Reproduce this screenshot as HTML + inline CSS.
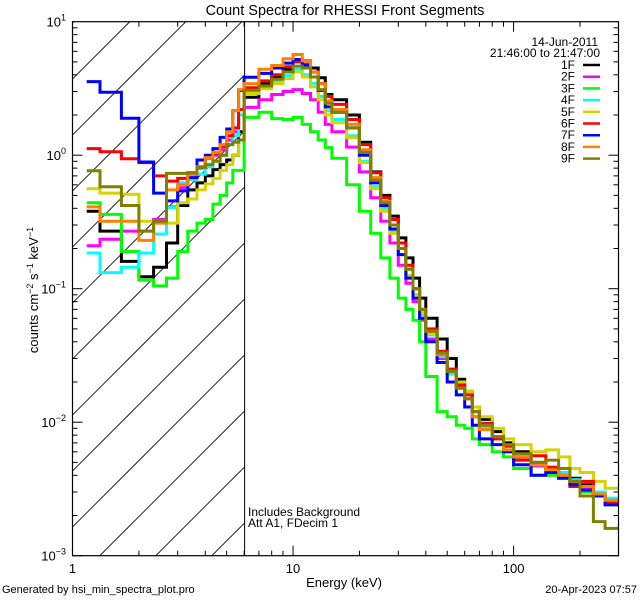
<!DOCTYPE html>
<html><head><meta charset="utf-8"><style>
html,body{margin:0;padding:0;background:#fff;width:640px;height:600px;overflow:hidden;}
svg{display:block;position:absolute;left:0;top:0;font-family:"Liberation Sans",sans-serif;}
</style></head><body>
<svg id="chart" width="640" height="600" viewBox="0 0 640 600" xmlns="http://www.w3.org/2000/svg" overflow="hidden">
<defs><clipPath id="plotclip"><rect x="72.5" y="21.7" width="546" height="534"/></clipPath>
<clipPath id="hatchclip"><rect x="72.5" y="21.7" width="172" height="534"/></clipPath></defs>
<rect width="640" height="600" fill="#fff"/>
<text x="345" y="15" font-size="14.5" text-anchor="middle">Count Spectra for RHESSI Front Segments</text>
<g id="hatch" clip-path="url(#hatchclip)"></g>
<line x1="244.6" y1="21.7" x2="244.6" y2="555.7" stroke="#000" stroke-width="1"/>
<g id="series" clip-path="url(#plotclip)"></g>
<g id="axes"></g>
<text x="344" y="587" font-size="13" text-anchor="middle">Energy (keV)</text>
<text transform="translate(38,290) rotate(-90)" font-size="13" text-anchor="middle">counts cm<tspan dy="-5" font-size="9">−2</tspan><tspan dy="5"> s</tspan><tspan dy="-5" font-size="9">−1</tspan><tspan dy="5"> keV</tspan><tspan dy="-5" font-size="9">−1</tspan></text>
<text x="248" y="516" font-size="12">Includes Background</text>
<text x="248" y="527" font-size="12">Att A1, FDecim 1</text>
<text x="2" y="593" font-size="11">Generated by hsi_min_spectra_plot.pro</text>
<text x="637" y="593" font-size="11" text-anchor="end">20-Apr-2023 07:57</text>
<text x="598" y="46" font-size="12" text-anchor="end">14-Jun-2011</text>
<text x="600" y="57" font-size="12" text-anchor="end">21:46:00 to 21:47:00</text>
<g id="legend"></g>
</svg>
<script>
const energyEdges = [1.16,1.333,1.667,2,2.333,2.667,3,3.333,3.667,4,4.333,4.667,5,5.333,5.667,6,
 7,8,9,10,11,12,13,14,15,
 17.5,20,22.5,25,27.5,30,32.5,35,37.5,40,45,50,55,60,65,70,80,90,100,120,140,160,180,200,230,260,300];
const seriesNames = ["1F","2F","3F","4F","5F","6F","7F","8F","9F"];
const s1F = [0.38,0.27,0.16,0.123,0.145,0.22,0.42,0.55,0.62,0.70,0.78,0.85,0.92,1.0,1.5,
 2.72,3.44,3.84,4.4,5.2,5.1,4.5,3.8,2.85,
 2.6,2.0,1.25,0.75,0.5,0.35,0.24,0.17,0.12,0.085,0.06,0.042,0.03,0.021,0.017,0.013,0.0105,0.0085,0.007,0.006,0.005,0.0045,0.0042,0.0038,0.0034,0.003,0.0026];
const s2F = [0.21,0.235,0.27,0.27,0.33,0.41,0.57,0.72,0.80,0.95,1.0,1.1,1.3,1.5,2.0,
 2.28,2.6,2.85,3.0,3.1,2.9,2.6,2.1,1.7,
 1.5,1.15,0.75,0.48,0.32,0.22,0.15,0.11,0.08,0.058,0.042,0.03,0.023,0.018,0.015,0.011,0.009,0.0075,0.006,0.0052,0.0047,0.0043,0.0039,0.0035,0.0032,0.0028,0.0025];
const s3F = [0.44,0.36,0.19,0.116,0.105,0.12,0.19,0.27,0.31,0.33,0.43,0.5,0.62,0.77,0.77,
 1.92,2.1,1.88,1.85,1.92,1.7,1.5,1.3,1.14,
 0.95,0.6,0.38,0.26,0.17,0.12,0.085,0.07,0.058,0.04,0.022,0.012,0.011,0.0095,0.009,0.0075,0.0068,0.006,0.0055,0.0045,0.004,0.004,0.0038,0.0035,0.003,0.0028,0.0025];
const s4F = [0.185,0.132,0.145,0.185,0.257,0.405,0.62,0.66,0.72,0.82,0.9,1.0,1.2,1.4,2.0,
 3.07,3.3,3.6,3.95,4.4,4.0,3.45,2.75,2.15,
 1.85,1.4,0.9,0.58,0.4,0.27,0.18,0.125,0.09,0.064,0.045,0.031,0.023,0.018,0.015,0.011,0.009,0.0075,0.0062,0.0055,0.0048,0.0046,0.0042,0.0037,0.0033,0.003,0.0027];
const s5F = [0.56,0.52,0.51,0.32,0.32,0.31,0.44,0.47,0.55,0.61,0.67,0.77,0.85,1.0,1.3,
 2.9,3.15,3.44,3.75,4.2,3.85,3.25,2.6,2.0,
 1.75,1.35,0.88,0.56,0.38,0.26,0.18,0.125,0.09,0.066,0.046,0.033,0.025,0.02,0.017,0.013,0.011,0.009,0.0075,0.0068,0.006,0.0062,0.0055,0.0045,0.0042,0.0036,0.0032];
const s6F = [1.12,1.06,0.94,0.88,0.70,0.64,0.67,0.74,0.82,0.96,1.03,1.16,1.4,1.6,2.2,
 3.2,3.6,4.0,4.6,5.0,4.8,4.2,3.45,2.75,
 2.4,1.85,1.2,0.74,0.48,0.33,0.22,0.15,0.1,0.07,0.05,0.034,0.025,0.019,0.016,0.012,0.0098,0.0075,0.0066,0.0052,0.0056,0.0046,0.004,0.0033,0.0036,0.0028,0.0025];
const s7F = [3.56,2.96,1.89,0.89,0.52,0.455,0.54,0.68,0.92,1.0,1.12,1.36,1.57,2.16,3.05,
 3.84,4.1,4.5,4.9,5.2,4.7,3.85,3.05,2.3,
 2.1,1.6,1.0,0.62,0.42,0.28,0.18,0.12,0.085,0.06,0.04,0.028,0.02,0.016,0.013,0.0095,0.0075,0.0068,0.006,0.0048,0.004,0.0042,0.0038,0.0034,0.0031,0.0028,0.0024];
const s8F = [0.41,0.32,0.32,0.23,0.31,0.55,0.6,0.72,0.82,0.96,1.05,1.2,1.5,2.16,3.1,
 3.44,4.4,4.7,5.27,5.68,5.1,4.18,3.43,2.56,
 2.2,1.7,1.1,0.68,0.45,0.3,0.2,0.14,0.1,0.07,0.048,0.032,0.024,0.018,0.015,0.011,0.0088,0.0078,0.0062,0.0055,0.0048,0.0044,0.004,0.0036,0.0033,0.0029,0.0026];
const s9F = [0.765,0.58,0.42,0.27,0.32,0.73,0.73,0.74,0.81,0.85,0.9,1.0,1.2,1.25,1.3,
 3.07,3.3,3.7,4.2,4.65,4.5,3.85,3.1,2.45,
 2.1,1.6,1.05,0.65,0.44,0.3,0.2,0.14,0.1,0.07,0.048,0.033,0.024,0.018,0.015,0.012,0.0095,0.0078,0.0068,0.0058,0.005,0.0052,0.0045,0.0036,0.0028,0.0018,0.0016];
const seriesValues = [s1F,s2F,s3F,s4F,s5F,s6F,s7F,s8F,s9F];
const seriesColors = ["#000000","#ff00ff","#00ff00","#00ffff","#d4d400","#ff0000","#0000ff","#ff8000","#808000"];
const xTickLabels = ["1","10","100"];
const yTickExps = ["1","0","−1","−2","−3"];

const NS="http://www.w3.org/2000/svg";
const L=72.5,R=618.5,T=21.7,B=555.7,HX=244.6;
const xmin=0,xmax=Math.log10(299);
const ymin=-3,ymax=1;
function xs(e){return L+(Math.log10(e)-xmin)/(xmax-xmin)*(R-L);}
function ys(v){return B-(Math.log10(v)-ymin)/(ymax-ymin)*(B-T);}
function mk(tag,attrs,parent){const el=document.createElementNS(NS,tag);for(const k in attrs)el.setAttribute(k,attrs[k]);parent.appendChild(el);return el;}

const hatch=document.getElementById('hatch');
for(let k=-10;k<10;k++){
  const c=303+56*k;
  const xa=Math.max(L,L+c-B), xb=Math.min(HX,L+c-T);
  if(xb<=xa)continue;
  const hl=mk('line',{x1:xa,y1:c-(xa-L),x2:xb,y2:c-(xb-L),stroke:'#000','stroke-width':0.8},hatch);
  
  
}

const sg=document.getElementById('series');
seriesValues.forEach((vals,si)=>{
  let d='M'+xs(energyEdges[0]).toFixed(1)+' '+ys(vals[0]).toFixed(1);
  for(let i=0;i<vals.length;i++){
    if(i>0)d+=' V'+ys(vals[i]).toFixed(1);
    d+=' H'+Math.min(R,xs(energyEdges[i+1])).toFixed(1);
  }
  const p=mk('path',{d:d,fill:'none',stroke:seriesColors[si],'stroke-width':3,'stroke-linejoin':'miter','stroke-linecap':'butt'},sg);
  
  
});

const ax=document.getElementById('axes');
const frame=mk('rect',{x:L,y:T,width:R-L,height:B-T,fill:'none',stroke:'#000','stroke-width':1.2},ax);


for(let dec=0;dec<3;dec++){
  for(let m=1;m<10;m++){
    const e=m*Math.pow(10,dec);
    if(e>299)continue;
    const x=xs(e),len=m===1?10:5;
    const t1=mk('line',{x1:x,y1:B,x2:x,y2:B-len,stroke:'#000','stroke-width':1},ax);
    
    
    const t2=mk('line',{x1:x,y1:T,x2:x,y2:T+len,stroke:'#000','stroke-width':1},ax);
    
    
  }
}
xTickLabels.forEach((lab)=>{
  const t=mk('text',{x:xs(parseFloat(lab)),y:573,'font-size':13,'text-anchor':'middle'},ax);
  t.textContent=lab;
  
  
});
for(let dec=-3;dec<1;dec++){
  for(let m=1;m<10;m++){
    const v=m*Math.pow(10,dec);
    const y=ys(v),len=m===1?10:5;
    const t1=mk('line',{x1:L,y1:y,x2:L+len,y2:y,stroke:'#000','stroke-width':1},ax);
    
    
    const t2=mk('line',{x1:R,y1:y,x2:R-len,y2:y,stroke:'#000','stroke-width':1},ax);
    
    
  }
}
yTickExps.forEach((ex)=>{
  const v=Math.pow(10,parseFloat(ex.replace('−','-')));
  const t=mk('text',{x:66,y:ys(v)+5,'font-size':13,'text-anchor':'end'},ax);
  
  
  const a=document.createElementNS(NS,'tspan');a.textContent='10';t.appendChild(a);
  const b=document.createElementNS(NS,'tspan');b.setAttribute('dy','-6');b.setAttribute('font-size','9');b.textContent=ex;t.appendChild(b);
});

const lg=document.getElementById('legend');
seriesNames.forEach((n,i)=>{
  const y=65+i*11.7;
  const t=mk('text',{x:575,y:y+4,'font-size':12,'text-anchor':'end'},lg);
  t.textContent=n;
  
  
  const l=mk('line',{x1:583,y1:y,x2:600,y2:y,stroke:seriesColors[i],'stroke-width':2.5},lg);
  
  
});
</script>
</body></html>
